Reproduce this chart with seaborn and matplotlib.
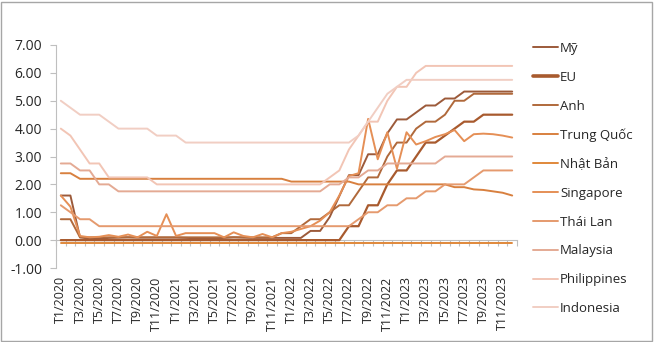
import matplotlib
matplotlib.use("Agg")
import matplotlib.pyplot as plt
import matplotlib.patches as mpatches
from matplotlib.lines import Line2D
import seaborn as sns
import pandas as pd

sns.set_theme(style="white")
plt.rcParams['font.family'] = ['Open Sans', 'DejaVu Sans']

# ---------------- data ----------------
months = [f"T{m}/{y}" for y in (2020, 2021, 2022, 2023) for m in range(1, 13)]
tick_labels = months[::2]

series_names = ["Mỹ", "EU", "Anh", "Trung Quốc", "Nhật Bản", "Singapore",
                "Thái Lan", "Malaysia", "Philippines", "Indonesia"]

my = [1.6, 1.6, 0.1, 0.05, 0.05, 0.08, 0.09, 0.1, 0.09, 0.09, 0.09, 0.09,
      0.09, 0.08, 0.07, 0.07, 0.06, 0.08, 0.1, 0.09, 0.08, 0.08, 0.08, 0.08,
      0.08, 0.08, 0.33, 0.33, 0.83, 1.58, 2.33, 2.33, 3.08, 3.08, 3.83, 4.33,
      4.33, 4.58, 4.83, 4.83, 5.08, 5.08, 5.33, 5.33, 5.33, 5.33, 5.33, 5.33]
eu = [0.0] * 30 + [0.5, 0.5, 1.25, 1.25, 2.0, 2.5,
                   2.5, 3.0, 3.5, 3.5, 3.75, 4.0, 4.25, 4.25, 4.5, 4.5, 4.5, 4.5]
anh = [0.75, 0.75] + [0.1] * 21 + [0.25,
       0.25, 0.5, 0.75, 0.75, 1.0, 1.25, 1.25, 1.75, 2.25, 2.25, 3.0, 3.5,
       3.5, 4.0, 4.25, 4.25, 4.5, 5.0, 5.0, 5.25, 5.25, 5.25, 5.25, 5.25]
trung_quoc = [2.4, 2.4] + [2.2] * 22 + [2.1] * 7 + [2.0] * 5 + \
             [2.0, 2.0, 2.0, 2.0, 2.0, 1.9, 1.9, 1.82, 1.8, 1.75, 1.7, 1.6]
nhat_ban = [-0.1] * 48
singapore = [1.6, 1.2, 0.15, 0.1, 0.12, 0.18, 0.12, 0.2, 0.1, 0.3, 0.15, 0.93,
             0.15, 0.25, 0.25, 0.25, 0.25, 0.1, 0.28, 0.15, 0.1, 0.22, 0.1, 0.25,
             0.3, 0.4, 0.5, 0.7, 1.0, 1.6, 2.3, 2.4, 4.35, 2.9, 3.87, 2.56,
             3.87, 3.43, 3.55, 3.7, 3.8, 3.95, 3.55, 3.8, 3.82, 3.8, 3.75, 3.68]
thai_lan = [1.25, 1.0, 0.75, 0.75] + [0.5] * 27 + [0.75, 1.0, 1.0, 1.25, 1.25,
            1.5, 1.5, 1.75, 1.75, 2.0, 2.0, 2.0, 2.25, 2.5, 2.5, 2.5, 2.5]
malaysia = [2.75, 2.75, 2.5, 2.5, 2.0, 2.0] + [1.75] * 22 + \
           [2.0, 2.0, 2.25, 2.25, 2.5, 2.5, 2.75, 2.75,
            2.75, 2.75, 2.75, 2.75] + [3.0] * 8
philippines = [4.0, 3.75, 3.25, 2.75, 2.75, 2.25, 2.25, 2.25, 2.25, 2.25] + \
              [2.0] * 18 + [2.25, 2.5, 3.25, 3.75, 4.25, 4.25, 5.0, 5.5,
                            5.5, 6.0] + [6.25] * 10
indonesia = [5.0, 4.75, 4.5, 4.5, 4.5, 4.25, 4.0, 4.0, 4.0, 4.0, 3.75, 3.75,
             3.75] + [3.5] * 18 + [3.75, 4.25, 4.75, 5.25, 5.5] + [5.75] * 12

values = [my, eu, anh, trung_quoc, nhat_ban, singapore, thai_lan, malaysia,
          philippines, indonesia]

colors = ["#9C5A3A", "#A85A2E", "#B0693B", "#D8803F", "#E0883A", "#E58F56",
          "#E59A6E", "#E4AA94", "#F2C5B5", "#F1CEC3"]
widths = [1.4, 1.6, 1.4, 1.4, 1.4, 1.4, 1.4, 1.4, 1.4, 1.4]
legend_widths = [1.4, 2.6, 1.4, 1.4, 1.4, 1.4, 1.4, 1.4, 1.4, 1.4]

idx = list(range(len(months)))

# ---------------- figure ----------------
fig = plt.figure(figsize=(6.56, 3.42), dpi=100)
ax = fig.add_axes([56 / 656, 1 - 268 / 342, 461 / 656, 223 / 342])

for name, vals, c, w in zip(series_names, values, colors, widths):
    df = pd.DataFrame({"x": idx, "y": vals})
    sns.lineplot(data=df, x="x", y="y", ax=ax, color=c, linewidth=w,
                 estimator=None, sort=False, legend=False)

ax.set_xlim(-0.5, len(months) - 0.5)
ax.set_ylim(-1, 7)
ax.set_xlabel("")
ax.set_ylabel("")

# y axis
ax.set_yticks(range(-1, 8))
ax.set_yticklabels([f"{v:.2f}" for v in range(-1, 8)], fontsize=10, color="#262626")
ax.tick_params(axis="y", which="major", direction="out", length=4, width=0.8,
               color="#BFBFBF", pad=6, left=True)
for s in ("top", "right", "bottom"):
    ax.spines[s].set_visible(False)
ax.spines["left"].set_color("#BFBFBF")
ax.spines["left"].set_linewidth(0.8)

# x labels at bottom
ax.set_xticks(idx[::2])
ax.set_xticklabels(tick_labels, rotation=90, fontsize=9, color="#262626",
                   va="top", ha="center")
ax.tick_params(axis="x", length=0, pad=6, bottom=True)

# axis line at 0 with category tick marks
sec = ax.secondary_xaxis(1 / 8)
sec.set_xticks([i - 0.5 for i in range(len(months) + 1)])
sec.set_xticklabels([])
sec.tick_params(axis="x", direction="out", length=4, width=0.8, color="#BFBFBF")
sec.spines["bottom"].set_color("#BFBFBF")
sec.spines["bottom"].set_linewidth(0.8)

# legend
handles = [Line2D([0], [0], color=c, lw=w) for c, w in zip(colors, legend_widths)]
fig.legend(handles, series_names, loc="upper left",
           bbox_to_anchor=(533 / 656, 1 - 42 / 342), frameon=False,
           fontsize=9.5, handlelength=1.9, handletextpad=0.15,
           labelspacing=1.2, borderpad=0, borderaxespad=0,
           labelcolor="#262626")

# outer border
fig.patches.append(mpatches.Rectangle((1 / 656, 1 / 342), 651 / 656, 339 / 342,
                                      transform=fig.transFigure, fill=False,
                                      edgecolor="#A6A6A6", linewidth=1.0))

fig.savefig("out.png", dpi=100)
